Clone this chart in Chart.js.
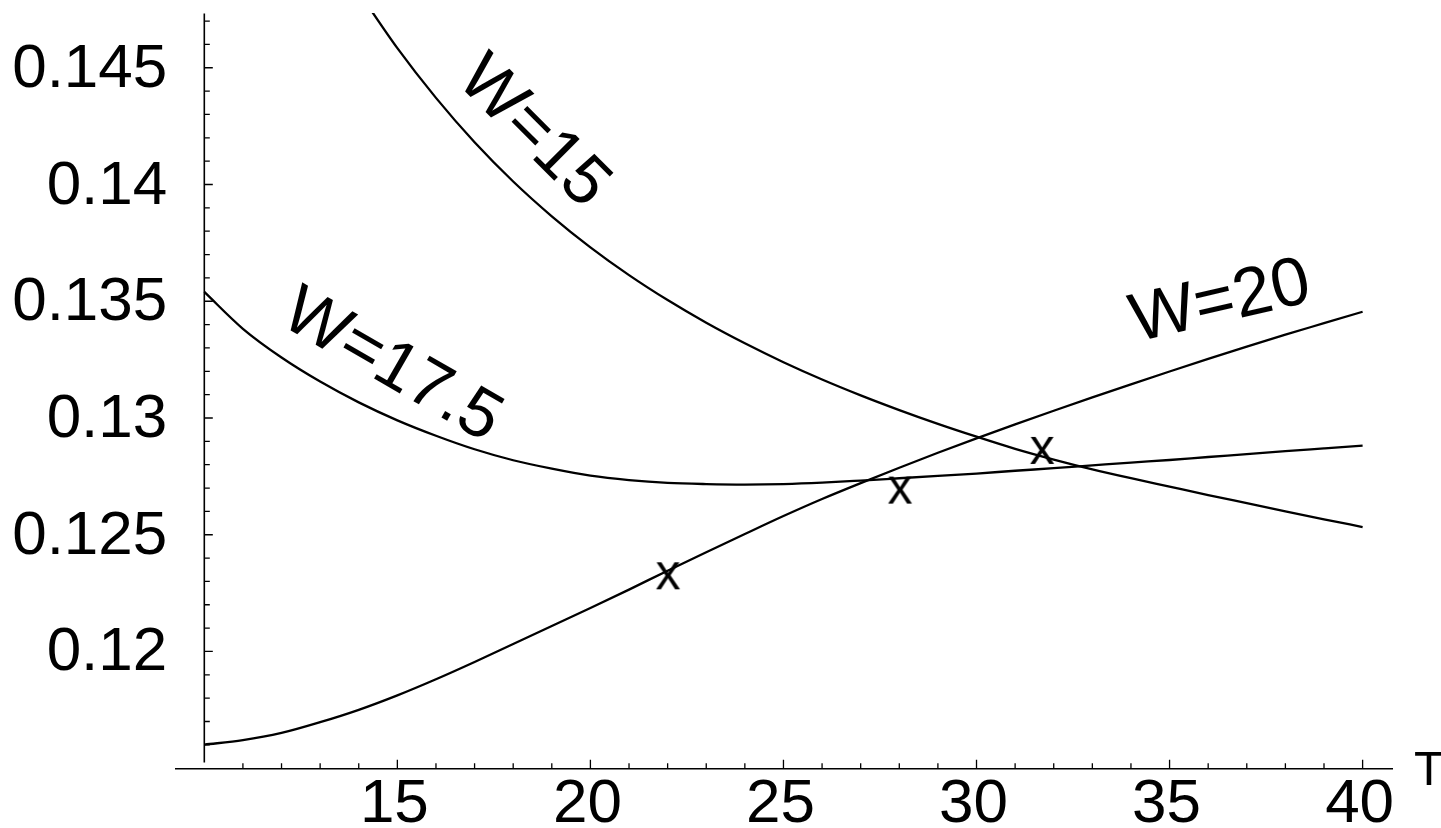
<!DOCTYPE html>
<html>
<head>
<meta charset="utf-8">
<title>W curves versus T</title>
<script src="https://cdn.jsdelivr.net/npm/chart.js@4/dist/chart.umd.min.js"></script>
<style>
  html, body { margin: 0; padding: 0; background: #ffffff; }
  #wrap { position: relative; width: 1441px; height: 828px; }
</style>
</head>
<body>
<div id="wrap"><canvas id="plot"></canvas></div>
<script>
// ---- data -------------------------------------------------------------
const tFull = [10,11,12,13,14,15,16,17,18,19,20,21,22,23,24,25,26,27,28,29,30,31,32,33,34,35,36,37,38,39,40];
const tW15  = [14,15,16,17,18,19,20,21,22,23,24,25,26,27,28,29,30,31,32,33,34,35,36,37,38,39,40];

const w15 = [0.14824,0.14584,0.14371,0.14181,0.14013,0.13864,0.13731,0.13612,0.13505,0.13408,
             0.13320,0.13239,0.13165,0.13097,0.13034,0.12975,0.12920,0.12868,0.12822,0.12780,
             0.12742,0.12706,0.12670,0.12635,0.12600,0.12566,0.12533];

const w175 = [0.13540,0.13382,0.13259,0.13156,0.13067,0.12990,0.12924,0.12866,0.12819,0.12783,
              0.12753,0.12734,0.12722,0.12717,0.12715,0.12717,0.12723,0.12732,0.12742,0.12752,
              0.12762,0.12774,0.12785,0.12797,0.12809,0.12820,0.12833,0.12845,0.12858,0.12870,
              0.12882];

const w20 = [0.11601,0.11620,0.11651,0.11697,0.11750,0.11812,0.11881,0.11955,0.12032,0.12109,
             0.12186,0.12265,0.12346,0.12425,0.12503,0.12580,0.12653,0.12721,0.12787,0.12851,
             0.12913,0.12973,0.13031,0.13088,0.13144,0.13199,0.13253,0.13306,0.13357,0.13406,
             0.13455];

const markerT = [22.01, 28.02, 31.70];
const markerV = [0.12320, 0.12687, 0.12857];

const curveNames      = ['W=15', 'W=17.5', 'W=20'];
const curveLabelT     = [18.51, 14.85, 36.32];
const curveLabelV     = [0.14223, 0.13220, 0.13493];
const curveLabelAngle = [45, 30, -13];

const xMajorTicks = [15, 20, 25, 30, 35, 40];
const xTickLabels = ['15', '20', '25', '30', '35', '40'];
const xMinorTicks = [11,12,13,14,16,17,18,19,21,22,23,24,26,27,28,29,31,32,33,34,36,37,38,39];

const yMajorTicks = [0.12, 0.125, 0.13, 0.135, 0.14, 0.145];
const yTickLabels = ['0.12', '0.125', '0.13', '0.135', '0.14', '0.145'];
const yMinorTicks = [0.116,0.117,0.118,0.119,0.121,0.122,0.123,0.124,0.126,0.127,0.128,0.129,
                     0.131,0.132,0.133,0.134,0.136,0.137,0.138,0.139,0.141,0.142,0.143,0.144,
                     0.146,0.147];

const xAxisTitle = 'T';

// ---- view settings ----------------------------------------------------
const X_MIN = 9.241, X_MAX = 40.787;
const Y_MIN = 0.114979, Y_MAX = 0.147346;
const Y_AXIS_AT_T = 10;
const Y_AXIS_FROM = 0.11524, Y_AXIS_TO = 0.14732;
const FONT = '"Liberation Sans", Arial, Helvetica, sans-serif';

function pairs(xs, ys) { return xs.map((x, i) => ({ x: x, y: ys[i] })); }

// letter "x" rendered once and used as the marker symbol
function glyphMarker(ch, size) {
  const c = document.createElement('canvas');
  const s = Math.ceil(size * 0.9);
  c.width = s; c.height = s;
  const g = c.getContext('2d');
  g.fillStyle = '#000';
  g.font = size + 'px ' + FONT;
  g.textAlign = 'center';
  g.textBaseline = 'alphabetic';
  g.fillText(ch, s / 2, s / 2 + size * 0.2595);
  return c;
}

// Mathematica-style axes: ticks pointing inward, labels outside
const axesPlugin = {
  id: 'crossAxes',
  afterDatasetsDraw(chart) {
    const { ctx, chartArea: a } = chart;
    const xs = chart.scales.x, ys = chart.scales.y;
    ctx.save();
    ctx.strokeStyle = '#000';
    ctx.fillStyle = '#000';
    ctx.lineCap = 'butt';

    const yBase = a.bottom;
    const xBase = xs.getPixelForValue(Y_AXIS_AT_T);

    ctx.lineWidth = 1.6;
    ctx.beginPath();
    ctx.moveTo(a.left, yBase); ctx.lineTo(a.right, yBase);
    ctx.moveTo(xBase, ys.getPixelForValue(Y_AXIS_FROM));
    ctx.lineTo(xBase, ys.getPixelForValue(Y_AXIS_TO));
    ctx.stroke();

    ctx.lineWidth = 1.3;
    ctx.beginPath();
    xMajorTicks.forEach(v => { const p = xs.getPixelForValue(v); ctx.moveTo(p, yBase); ctx.lineTo(p, yBase - 9); });
    xMinorTicks.forEach(v => { const p = xs.getPixelForValue(v); ctx.moveTo(p, yBase); ctx.lineTo(p, yBase - 5.5); });
    yMajorTicks.forEach(v => { const p = ys.getPixelForValue(v); ctx.moveTo(xBase, p); ctx.lineTo(xBase + 8.5, p); });
    yMinorTicks.forEach(v => { const p = ys.getPixelForValue(v); ctx.moveTo(xBase, p); ctx.lineTo(xBase + 5.5, p); });
    ctx.stroke();

    ctx.font = '62px ' + FONT;
    ctx.textBaseline = 'alphabetic';
    ctx.textAlign = 'center';
    xMajorTicks.forEach((v, i) => {
      ctx.fillText(xTickLabels[i], xs.getPixelForValue(v) - 3, yBase + 53.5);
    });
    ctx.textAlign = 'right';
    yMajorTicks.forEach((v, i) => {
      ctx.fillText(yTickLabels[i], xBase - 37, ys.getPixelForValue(v) + 19);
    });

    ctx.font = '49px ' + FONT;
    ctx.textAlign = 'left';
    ctx.fillText(xAxisTitle, a.right + 21, yBase + 16.5);

    ctx.font = '69px ' + FONT;
    ctx.textAlign = 'center';
    ctx.textBaseline = 'middle';
    curveNames.forEach((name, i) => {
      ctx.save();
      ctx.translate(xs.getPixelForValue(curveLabelT[i]), ys.getPixelForValue(curveLabelV[i]));
      ctx.rotate(curveLabelAngle[i] * Math.PI / 180);
      ctx.fillText(name, 0, 0);
      ctx.restore();
    });
    ctx.restore();
  }
};

const lineStyle = {
  borderColor: '#000000',
  borderWidth: 2.3,
  pointRadius: 0,
  showLine: true,
  fill: false,
  cubicInterpolationMode: 'monotone'
};

new Chart(document.getElementById('plot'), {
  type: 'scatter',
  data: {
    datasets: [
      Object.assign({ label: curveNames[0], data: pairs(tW15, w15) }, lineStyle),
      Object.assign({ label: curveNames[1], data: pairs(tFull, w175) }, lineStyle),
      Object.assign({ label: curveNames[2], data: pairs(tFull, w20) }, lineStyle),
      {
        label: 'x',
        data: pairs(markerT, markerV),
        showLine: false,
        pointStyle: glyphMarker('x', 50),
        pointRadius: 12,
        clip: false
      }
    ]
  },
  options: {
    responsive: true,
    maintainAspectRatio: false,
    animation: false,
    events: [],
    layout: { padding: { left: 175, right: 48, top: 10, bottom: 59.3 } },
    plugins: { legend: { display: false }, tooltip: { enabled: false } },
    scales: {
      x: { type: 'linear', min: X_MIN, max: X_MAX, display: false },
      y: { type: 'linear', min: Y_MIN, max: Y_MAX, display: false }
    }
  },
  plugins: [axesPlugin]
});
</script>
</body>
</html>
